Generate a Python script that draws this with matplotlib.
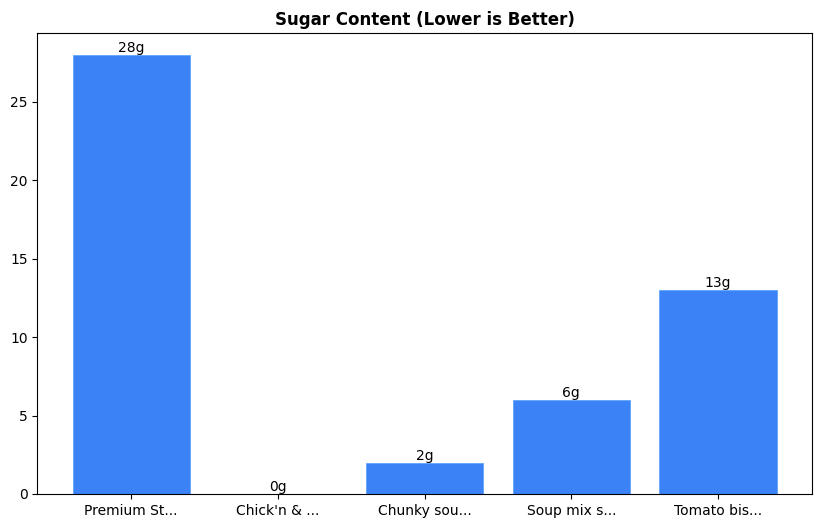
import matplotlib.pyplot as plt

labels = ["Premium St...", "Chick'n & ...", "Chunky sou...", "Soup mix s...", "Tomato bis..."]
sugar = [28, 0, 2, 6, 13]

fig = plt.figure(figsize=(8.22, 5.28), dpi=100)
ax = fig.add_axes([0.0454, 0.0644, 0.9424, 0.8731])
bars = ax.bar(labels, sugar, width=0.8, color="#3b82f6", edgecolor="#60a5fa", linewidth=0.6)
for b, v in zip(bars, sugar):
    ax.text(b.get_x() + b.get_width() / 2, v, f"{v}g", ha="center", va="bottom", fontsize=10)
ax.set_title("Sugar Content (Lower is Better)", fontweight="bold", fontsize=12)
fig.savefig("out.png", dpi=100)
